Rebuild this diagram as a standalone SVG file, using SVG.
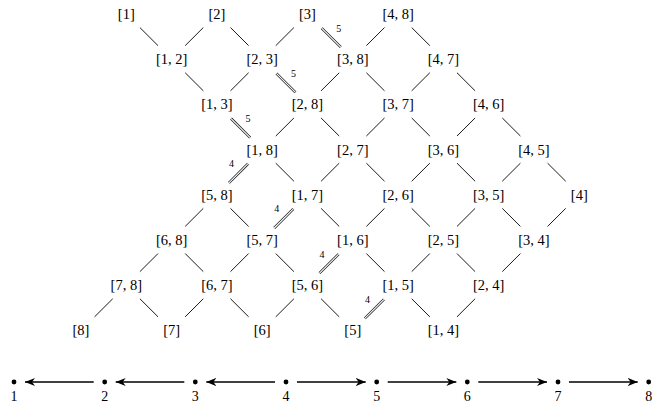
<svg xmlns="http://www.w3.org/2000/svg" width="652" height="407" viewBox="0 0 652 407">
<style>
.n{font-family:"Liberation Serif","DejaVu Serif",serif;font-size:14.5px;text-anchor:middle;fill:#000}
.l{font-family:"Liberation Serif","DejaVu Serif",serif;font-size:10px;text-anchor:middle;fill:#000}
.b{font-family:"Liberation Serif","DejaVu Serif",serif;font-size:14px;text-anchor:middle;fill:#000}
.e{stroke:#000;stroke-width:0.9;fill:none;stroke-dasharray:0 19.2 25.6 80}
.d{stroke:#222;stroke-width:2.6;fill:none;stroke-dasharray:0 20 27 80}
.dw{stroke:#fff;stroke-width:1.1;fill:none;stroke-dasharray:0 20 27 80}
.a{stroke:#000;stroke-width:1.3;fill:none;marker-end:url(#ah)}
.dot{fill:#000}
</style>
<defs>
<marker id="ah" viewBox="0 -5 12 10" refX="10" refY="0" markerWidth="12" markerHeight="10" markerUnits="userSpaceOnUse" orient="auto">
<path d="M0,-4 L10,0 L0,4 L3,0 z" fill="#000"/>
</marker>
</defs>
<g id="connectors">
<line class="e" x1="126.3" y1="14" x2="171.6" y2="59.2"/>
<line class="e" x1="216.9" y1="14" x2="171.6" y2="59.2"/>
<line class="e" x1="216.9" y1="14" x2="262.2" y2="59.2"/>
<line class="e" x1="307.5" y1="14" x2="262.2" y2="59.2"/>
<line class="d" x1="307.5" y1="14" x2="352.8" y2="59.2"/><line class="dw" x1="307.5" y1="14" x2="352.8" y2="59.2"/>
<line class="e" x1="398.1" y1="14" x2="352.8" y2="59.2"/>
<line class="e" x1="398.1" y1="14" x2="443.4" y2="59.2"/>
<line class="e" x1="171.6" y1="59.2" x2="216.9" y2="104.4"/>
<line class="e" x1="262.2" y1="59.2" x2="216.9" y2="104.4"/>
<line class="d" x1="262.2" y1="59.2" x2="307.5" y2="104.4"/><line class="dw" x1="262.2" y1="59.2" x2="307.5" y2="104.4"/>
<line class="e" x1="352.8" y1="59.2" x2="307.5" y2="104.4"/>
<line class="e" x1="352.8" y1="59.2" x2="398.1" y2="104.4"/>
<line class="e" x1="443.4" y1="59.2" x2="398.1" y2="104.4"/>
<line class="e" x1="443.4" y1="59.2" x2="488.7" y2="104.4"/>
<line class="d" x1="216.9" y1="104.4" x2="262.2" y2="149.6"/><line class="dw" x1="216.9" y1="104.4" x2="262.2" y2="149.6"/>
<line class="e" x1="307.5" y1="104.4" x2="262.2" y2="149.6"/>
<line class="e" x1="307.5" y1="104.4" x2="352.8" y2="149.6"/>
<line class="e" x1="398.1" y1="104.4" x2="352.8" y2="149.6"/>
<line class="e" x1="398.1" y1="104.4" x2="443.4" y2="149.6"/>
<line class="e" x1="488.7" y1="104.4" x2="443.4" y2="149.6"/>
<line class="e" x1="488.7" y1="104.4" x2="534" y2="149.6"/>
<line class="d" x1="262.2" y1="149.6" x2="216.9" y2="194.8"/><line class="dw" x1="262.2" y1="149.6" x2="216.9" y2="194.8"/>
<line class="e" x1="262.2" y1="149.6" x2="307.5" y2="194.8"/>
<line class="e" x1="352.8" y1="149.6" x2="307.5" y2="194.8"/>
<line class="e" x1="352.8" y1="149.6" x2="398.1" y2="194.8"/>
<line class="e" x1="443.4" y1="149.6" x2="398.1" y2="194.8"/>
<line class="e" x1="443.4" y1="149.6" x2="488.7" y2="194.8"/>
<line class="e" x1="534" y1="149.6" x2="488.7" y2="194.8"/>
<line class="e" x1="534" y1="149.6" x2="579.3" y2="194.8"/>
<line class="e" x1="216.9" y1="194.8" x2="171.6" y2="240"/>
<line class="e" x1="216.9" y1="194.8" x2="262.2" y2="240"/>
<line class="d" x1="307.5" y1="194.8" x2="262.2" y2="240"/><line class="dw" x1="307.5" y1="194.8" x2="262.2" y2="240"/>
<line class="e" x1="307.5" y1="194.8" x2="352.8" y2="240"/>
<line class="e" x1="398.1" y1="194.8" x2="352.8" y2="240"/>
<line class="e" x1="398.1" y1="194.8" x2="443.4" y2="240"/>
<line class="e" x1="488.7" y1="194.8" x2="443.4" y2="240"/>
<line class="e" x1="488.7" y1="194.8" x2="534" y2="240"/>
<line class="e" x1="579.3" y1="194.8" x2="534" y2="240"/>
<line class="e" x1="171.6" y1="240" x2="126.3" y2="285.2"/>
<line class="e" x1="171.6" y1="240" x2="216.9" y2="285.2"/>
<line class="e" x1="262.2" y1="240" x2="216.9" y2="285.2"/>
<line class="e" x1="262.2" y1="240" x2="307.5" y2="285.2"/>
<line class="d" x1="352.8" y1="240" x2="307.5" y2="285.2"/><line class="dw" x1="352.8" y1="240" x2="307.5" y2="285.2"/>
<line class="e" x1="352.8" y1="240" x2="398.1" y2="285.2"/>
<line class="e" x1="443.4" y1="240" x2="398.1" y2="285.2"/>
<line class="e" x1="443.4" y1="240" x2="488.7" y2="285.2"/>
<line class="e" x1="534" y1="240" x2="488.7" y2="285.2"/>
<line class="e" x1="126.3" y1="285.2" x2="81" y2="330.4"/>
<line class="e" x1="126.3" y1="285.2" x2="171.6" y2="330.4"/>
<line class="e" x1="216.9" y1="285.2" x2="171.6" y2="330.4"/>
<line class="e" x1="216.9" y1="285.2" x2="262.2" y2="330.4"/>
<line class="e" x1="307.5" y1="285.2" x2="262.2" y2="330.4"/>
<line class="e" x1="307.5" y1="285.2" x2="352.8" y2="330.4"/>
<line class="d" x1="398.1" y1="285.2" x2="352.8" y2="330.4"/><line class="dw" x1="398.1" y1="285.2" x2="352.8" y2="330.4"/>
<line class="e" x1="398.1" y1="285.2" x2="443.4" y2="330.4"/>
<line class="e" x1="488.7" y1="285.2" x2="443.4" y2="330.4"/>
<text class="l" x="338.7" y="31.6">5</text>
<text class="l" x="293.4" y="76.8">5</text>
<text class="l" x="248.1" y="122">5</text>
<text class="l" x="231.5" y="167.2">4</text>
<text class="l" x="276.8" y="212.4">4</text>
<text class="l" x="322.1" y="257.6">4</text>
<text class="l" x="367.4" y="302.8">4</text>
<line class="a" x1="93.7" y1="382" x2="25" y2="382"/>
<line class="a" x1="184.3" y1="382" x2="115.7" y2="382"/>
<line class="a" x1="275" y1="382" x2="206.3" y2="382"/>
<line class="a" x1="297" y1="382" x2="365.7" y2="382"/>
<line class="a" x1="387.7" y1="382" x2="456.3" y2="382"/>
<line class="a" x1="478.3" y1="382" x2="547" y2="382"/>
<line class="a" x1="569" y1="382" x2="637.7" y2="382"/>
</g>
<g id="n-1"><text class="n" x="126.3" y="19">[1]</text></g>
<g id="n-2"><text class="n" x="216.9" y="19">[2]</text></g>
<g id="n-3"><text class="n" x="307.5" y="19">[3]</text></g>
<g id="n-4-8"><text class="n" x="398.1" y="19">[4, 8]</text></g>
<g id="n-1-2"><text class="n" x="171.6" y="64.2">[1, 2]</text></g>
<g id="n-2-3"><text class="n" x="262.2" y="64.2">[2, 3]</text></g>
<g id="n-3-8"><text class="n" x="352.8" y="64.2">[3, 8]</text></g>
<g id="n-4-7"><text class="n" x="443.4" y="64.2">[4, 7]</text></g>
<g id="n-1-3"><text class="n" x="216.9" y="109.4">[1, 3]</text></g>
<g id="n-2-8"><text class="n" x="307.5" y="109.4">[2, 8]</text></g>
<g id="n-3-7"><text class="n" x="398.1" y="109.4">[3, 7]</text></g>
<g id="n-4-6"><text class="n" x="488.7" y="109.4">[4, 6]</text></g>
<g id="n-1-8"><text class="n" x="262.2" y="154.6">[1, 8]</text></g>
<g id="n-2-7"><text class="n" x="352.8" y="154.6">[2, 7]</text></g>
<g id="n-3-6"><text class="n" x="443.4" y="154.6">[3, 6]</text></g>
<g id="n-4-5"><text class="n" x="534" y="154.6">[4, 5]</text></g>
<g id="n-5-8"><text class="n" x="216.9" y="199.8">[5, 8]</text></g>
<g id="n-1-7"><text class="n" x="307.5" y="199.8">[1, 7]</text></g>
<g id="n-2-6"><text class="n" x="398.1" y="199.8">[2, 6]</text></g>
<g id="n-3-5"><text class="n" x="488.7" y="199.8">[3, 5]</text></g>
<g id="n-4"><text class="n" x="579.3" y="199.8">[4]</text></g>
<g id="n-6-8"><text class="n" x="171.6" y="245">[6, 8]</text></g>
<g id="n-5-7"><text class="n" x="262.2" y="245">[5, 7]</text></g>
<g id="n-1-6"><text class="n" x="352.8" y="245">[1, 6]</text></g>
<g id="n-2-5"><text class="n" x="443.4" y="245">[2, 5]</text></g>
<g id="n-3-4"><text class="n" x="534" y="245">[3, 4]</text></g>
<g id="n-7-8"><text class="n" x="126.3" y="290.2">[7, 8]</text></g>
<g id="n-6-7"><text class="n" x="216.9" y="290.2">[6, 7]</text></g>
<g id="n-5-6"><text class="n" x="307.5" y="290.2">[5, 6]</text></g>
<g id="n-1-5"><text class="n" x="398.1" y="290.2">[1, 5]</text></g>
<g id="n-2-4"><text class="n" x="488.7" y="290.2">[2, 4]</text></g>
<g id="n-8"><text class="n" x="81" y="335.4">[8]</text></g>
<g id="n-7"><text class="n" x="171.6" y="335.4">[7]</text></g>
<g id="n-6"><text class="n" x="262.2" y="335.4">[6]</text></g>
<g id="n-5"><text class="n" x="352.8" y="335.4">[5]</text></g>
<g id="n-1-4"><text class="n" x="443.4" y="335.4">[1, 4]</text></g>
<g id="p-1"><circle class="dot" cx="14" cy="382" r="2.4"/><text class="b" x="14" y="401">1</text></g>
<g id="p-2"><circle class="dot" cx="104.7" cy="382" r="2.4"/><text class="b" x="104.7" y="401">2</text></g>
<g id="p-3"><circle class="dot" cx="195.3" cy="382" r="2.4"/><text class="b" x="195.3" y="401">3</text></g>
<g id="p-4"><circle class="dot" cx="286" cy="382" r="2.4"/><text class="b" x="286" y="401">4</text></g>
<g id="p-5"><circle class="dot" cx="376.7" cy="382" r="2.4"/><text class="b" x="376.7" y="401">5</text></g>
<g id="p-6"><circle class="dot" cx="467.3" cy="382" r="2.4"/><text class="b" x="467.3" y="401">6</text></g>
<g id="p-7"><circle class="dot" cx="558" cy="382" r="2.4"/><text class="b" x="558" y="401">7</text></g>
<g id="p-8"><circle class="dot" cx="648.7" cy="382" r="2.4"/><text class="b" x="648.7" y="401">8</text></g>
</svg>
